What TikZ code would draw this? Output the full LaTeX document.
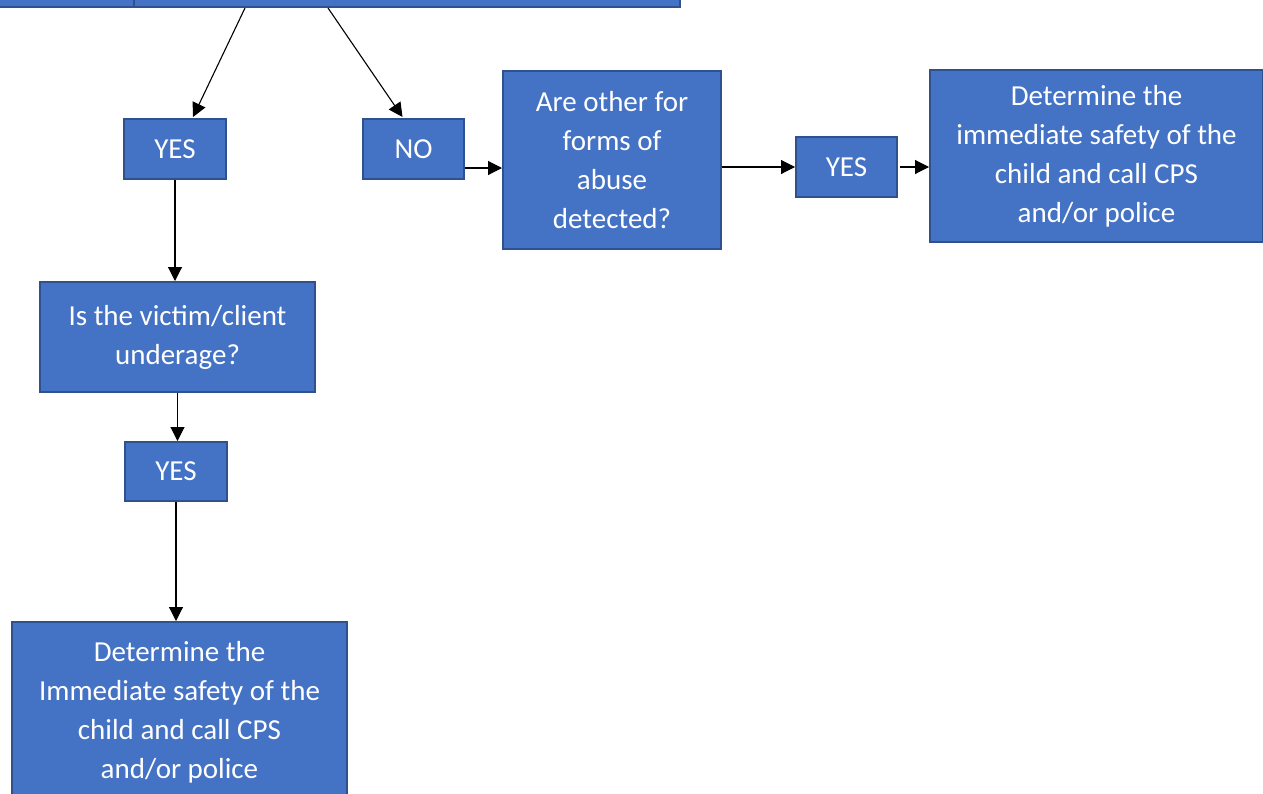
\documentclass[tikz,border=0pt]{standalone}
\usepackage{fontspec}
\setmainfont{Carlito}
\usetikzlibrary{arrows.meta,calc}
\definecolor{boxfill}{HTML}{4472C4}
\definecolor{boxline}{HTML}{2F528F}
\tikzset{
  box/.style={draw=boxline, line width=2pt, fill=boxfill, text=white, align=center,
    inner sep=0pt, anchor=north west, font=\fontsize{29}{39}\selectfont},
  arr/.style={draw=black, line width=1.1pt, -{Triangle[length=14pt,width=14pt]}}
}
\begin{document}
\begin{tikzpicture}[x=1pt,y=-1pt]
\useasboundingbox (0,0) rectangle (1263,793);
\clip (0,0) rectangle (1263,793);
% top boxes (cut off)
\node[box, minimum width=140pt, minimum height=70pt] (topL) at (-7,-64) {};
\node[box, minimum width=546pt, minimum height=70pt] (topR) at (133,-64) {};
% nodes
\node[box, minimum width=102pt, minimum height=60pt] (yes1) at (123,118) {YES};
\node[box, minimum width=101pt, minimum height=60pt] (no) at (362,118) {NO};
\node[box, minimum width=218pt, minimum height=178pt] (are) at (502,70) {Are other for\\forms of\\abuse\\detected?};
\node[box, minimum width=101pt, minimum height=60pt] (yes2) at (795,136) {YES};
\node[box, minimum width=333pt, minimum height=172pt] (right) at (929,69) {Determine the\\immediate safety of the\\child and call CPS\\and/or police};
\node[box, minimum width=275pt, minimum height=110pt] (is) at (39,281) {Is the victim/client\\underage?};
\node[box, minimum width=102pt, minimum height=59pt] (yes3) at (124,441) {YES};
\node[box, minimum width=335pt, minimum height=180pt] (bottom) at (11,621) {Determine the\\Immediate safety of the\\child and call CPS\\and/or police};
% connectors
\coordinate (s1) at ($(topR.south west)+(112,0)$);
\coordinate (s2) at ($(topR.south west)+(195,0)$);
\draw[arr] (s1) -- ($(yes1.north)+(18,-1)$);
\draw[arr] (s2) -- ($(no.north)+(-11,-1)$);
\path (no.east) ++(0,19) coordinate (n1);
\draw[arr] (n1) -- (n1 -| are.west);
\draw[arr] (are.east |- yes2.west) -- (yes2.west);
\draw[arr] ($(yes2.east)+(2,0)$) -- (yes2.east -| right.west);
\draw[arr] (yes1.south) -- (yes1.south |- is.north);
\draw[arr] (is.south) -- (is.south |- yes3.north);
\draw[arr] (yes3.south) -- (yes3.south |- bottom.north);
\end{tikzpicture}
\end{document}
